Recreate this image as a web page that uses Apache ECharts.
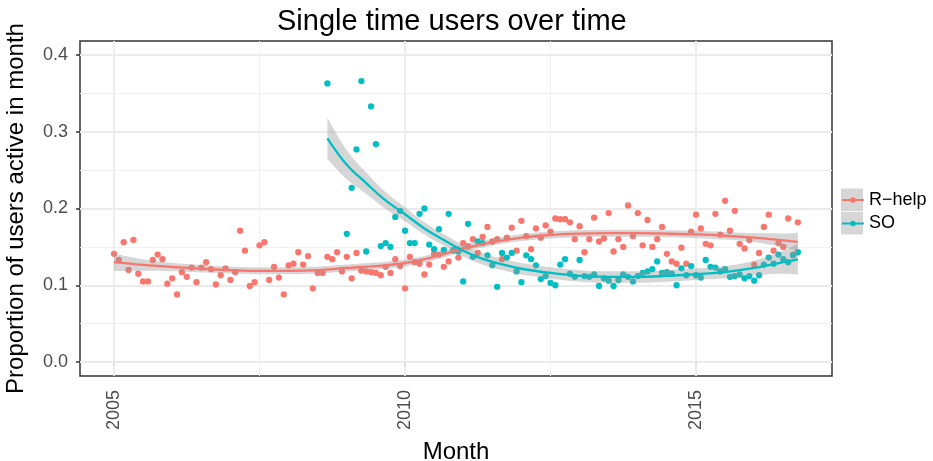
<!DOCTYPE html>
<html><head><meta charset="utf-8">
<script src="https://cdn.jsdelivr.net/npm/echarts@6/dist/echarts.min.js"></script>
<style>html,body{margin:0;padding:0;background:#fff}#c{width:933px;height:461px}</style>
</head><body><div id="c"></div>
<script>
// ---- data (monthly, month index 0 = Jan 2005) ----
const startYear = 2005;
const rhelpValues = [0.141,0.133,0.156,0.120,0.159,0.115,0.105,0.105,0.133,0.140,
 0.134,0.102,0.109,0.088,0.117,0.111,0.123,0.104,0.123,0.130,
 0.121,0.101,0.113,0.122,0.107,0.117,0.171,0.145,0.099,0.104,
 0.152,0.156,0.107,0.124,0.110,0.088,0.126,0.128,0.143,0.127,
 0.138,0.096,0.116,0.116,0.137,0.134,0.143,0.118,0.137,0.109,
 0.142,0.119,0.118,0.117,0.116,0.113,0.124,0.116,0.134,0.125,
 0.096,0.137,0.130,0.128,0.114,0.127,0.141,0.140,0.124,0.131,
 0.145,0.136,0.155,0.151,0.160,0.142,0.163,0.176,0.157,0.160,
 0.134,0.162,0.175,0.145,0.184,0.164,0.147,0.174,0.162,0.178,
 0.170,0.187,0.186,0.186,0.182,0.160,0.177,0.143,0.160,0.188,
 0.157,0.161,0.194,0.144,0.160,0.150,0.204,0.164,0.194,0.152,
 0.185,0.150,0.160,0.176,0.141,0.131,0.128,0.149,0.128,0.170,
 0.192,0.174,0.154,0.152,0.193,0.166,0.210,0.171,0.197,0.154,
 0.148,0.159,0.127,0.142,0.176,0.192,0.145,0.155,0.150,0.187,
 0.140,0.182];
const soStartMonth = 44;
const soValues = [0.363,null,null,null,0.167,0.227,0.277,0.366,0.144,0.333,
 0.284,0.151,0.155,0.150,0.189,0.197,0.171,0.155,0.155,0.193,
 0.200,0.153,0.147,0.173,0.146,0.193,0.146,0.144,0.105,0.180,
 0.137,0.157,0.155,0.139,0.126,0.098,0.142,0.136,0.142,0.118,
 0.104,0.139,0.134,0.126,0.108,0.112,0.103,0.100,0.127,0.134,
 0.115,0.111,0.133,0.112,0.111,0.114,0.099,0.109,0.106,0.099,
 0.107,0.114,0.111,0.105,0.112,0.116,0.118,0.121,0.131,0.116,
 0.117,0.115,0.100,0.122,0.113,0.125,0.113,0.110,0.133,0.124,
 0.123,0.118,0.121,0.111,0.112,0.114,0.109,0.112,0.106,0.113,
 0.127,0.136,0.128,0.140,0.134,0.130,0.139,0.143];
// smooth fits (month index, fitted value, half band width)
const rFitMonths = [0,6,12,18,24,30,36,42,48,54,60,66,72,78,84,90,96,102,108,114,120,126,132,138,141];
const rFit = [0.130,0.1265,0.1238,0.1215,0.1198,0.1188,0.1188,0.1198,0.1225,0.125,0.129,0.137,0.148,0.156,0.162,0.1655,0.1672,0.1678,0.1678,0.1672,0.1662,0.1645,0.162,0.1585,0.1565];
const rSe = [0.0115,0.0075,0.0055,0.0048,0.0045,0.0045,0.0045,0.0045,0.0045,0.0045,0.0045,0.0045,0.0045,0.0045,0.0045,0.0045,0.0045,0.0045,0.0045,0.0045,0.0048,0.005,0.006,0.009,0.012];
const soFitMonths = [44,48,52,56,60,64,68,72,76,80,84,90,96,102,108,114,120,126,132,138,141];
const soFit = [0.2915,0.257,0.233,0.2105,0.1925,0.174,0.159,0.145,0.1343,0.1273,0.1215,0.116,0.1122,0.1108,0.1108,0.1122,0.1145,0.1172,0.1225,0.130,0.1338];
const soSe = [0.027,0.019,0.014,0.011,0.009,0.008,0.0075,0.0075,0.0075,0.0075,0.0075,0.0075,0.0075,0.0075,0.0075,0.0075,0.0075,0.008,0.0095,0.015,0.02];
const xTicks = [2005, 2010, 2015];
const yTicks = [0, 0.1, 0.2, 0.3, 0.4];
const xMinorGrid = [2007.5, 2012.5];
const yMinorGrid = [0.05, 0.15, 0.25, 0.35];
const seriesNames = ['R\u2212help', 'SO'];
const colors = ['#F8766D', '#00BFC4'];

// ---- build ----
const toYear = m => startYear + m / 12;
const rPts = rhelpValues.map((v, i) => [toYear(i), v]);
const soPts = [];
soValues.forEach((v, i) => { if (v !== null) soPts.push([toYear(soStartMonth + i), v]); });
// band series keep the value column first so that the stack is applied to y
const lo = (ms, f, s) => ms.map((m, i) => [f[i] - s[i], toYear(m)]);
const wd = (ms, s) => ms.map((m, i) => [2 * s[i], toYear(m)]);
const fit = (ms, f) => ms.map((m, i) => [toYear(m), f[i]]);

const FONT = 'Liberation Sans, Arial, sans-serif';
const gridMajor = {color: '#EBEBEB', width: 1.8, type: 'solid'};
const gridMinor = {color: '#F0F0F0', width: 1, type: 'solid'};
const markData = [];
xTicks.forEach(v => markData.push({xAxis: v, lineStyle: gridMajor}));
xMinorGrid.forEach(v => markData.push({xAxis: v, lineStyle: gridMinor}));
yTicks.forEach(v => markData.push({yAxis: v, lineStyle: gridMajor}));
yMinorGrid.forEach(v => markData.push({yAxis: v, lineStyle: gridMinor}));

const bandStyle = {color: 'rgba(153,153,153,0.4)', opacity: 1};
function bandSeries(key, ms, f, s) {
  return [
    {type: 'line', name: '_lo' + key, stack: key, data: lo(ms, f, s), encode: {x: 1, y: 0}, smooth: 0.4, symbol: 'none',
     lineStyle: {opacity: 0, width: 0}, z: 3, silent: true},
    {type: 'line', name: '_band' + key, stack: key, data: wd(ms, s), encode: {x: 1, y: 0}, smooth: 0.4, symbol: 'none',
     lineStyle: {opacity: 0, width: 0}, areaStyle: bandStyle, z: 3, silent: true}
  ];
}
function fitSeries(name, color, ms, f) {
  return {type: 'line', name: name, data: fit(ms, f), smooth: 0.4, symbol: 'circle', symbolSize: 6,
    showSymbol: false, itemStyle: {color: color}, lineStyle: {color: color, width: 2.3}, z: 3, silent: true};
}

const chart = echarts.init(document.getElementById('c'), null, {renderer: 'canvas'});
chart.setOption({
  animation: false,
  backgroundColor: '#fff',
  title: {text: 'Single time users over time', left: 277, top: 7, padding: 0,
    textStyle: {fontSize: 29, fontWeight: 'normal', color: '#000', fontFamily: FONT}},
  grid: {left: 80, top: 41, width: 752, height: 335, containLabel: false, outerBoundsMode: 'none',
    show: true, borderColor: '#333333', borderWidth: 1.5, backgroundColor: 'transparent'},
  legend: [
    {data: [seriesNames[0]], orient: 'vertical', left: 841, top: 191, padding: 0, itemWidth: 22, itemHeight: 7,
     textStyle: {fontSize: 18, color: '#000', fontFamily: FONT}, selectedMode: false},
    {data: [seriesNames[1]], orient: 'vertical', left: 841, top: 214.5, padding: 0, itemWidth: 22, itemHeight: 7,
     textStyle: {fontSize: 18, color: '#000', fontFamily: FONT}, selectedMode: false}
  ],
  graphic: [
    {type: 'rect', shape: {x: 841, y: 188.5, width: 22, height: 22.6}, style: {fill: '#D6D6D6'}, z: 0},
    {type: 'rect', shape: {x: 841, y: 211.9, width: 22, height: 22.6}, style: {fill: '#D6D6D6'}, z: 0}
  ],
  xAxis: {type: 'value', min: 2004.4158, max: 2017.3368,
    name: 'Month', nameLocation: 'middle', nameGap: 64,
    nameTextStyle: {fontSize: 24, color: '#000', fontFamily: FONT},
    axisLine: {show: false},
    axisTick: {show: true, customValues: xTicks, length: 4, lineStyle: {color: '#333333', width: 1.5}},
    axisLabel: {customValues: xTicks, rotate: 90, margin: 14, fontSize: 18, color: '#4D4D4D', fontFamily: FONT,
      formatter: v => String(Math.round(v))},
    splitLine: {show: false}, minorSplitLine: {show: false}},
  yAxis: {type: 'value', min: -0.01824, max: 0.41824,
    name: 'Proportion of users active in month', nameLocation: 'middle', nameGap: 52,
    nameTextStyle: {fontSize: 24, color: '#000', fontFamily: FONT},
    axisLine: {show: false},
    axisTick: {show: true, customValues: yTicks, length: 4, lineStyle: {color: '#333333', width: 1.5}},
    axisLabel: {customValues: yTicks, margin: 12, fontSize: 18, color: '#4D4D4D', fontFamily: FONT,
      formatter: v => v.toFixed(1)},
    splitLine: {show: false}, minorSplitLine: {show: false}},
  series: [
    {type: 'scatter', name: 'R-help points', data: rPts, symbolSize: 6.3, itemStyle: {color: colors[0], opacity: 1}, z: 2,
     markLine: {silent: true, symbol: ['none', 'none'], label: {show: false}, z: 1, animation: false, data: markData}},
    {type: 'scatter', name: 'SO points', data: soPts, symbolSize: 6.3, itemStyle: {color: colors[1], opacity: 1}, z: 2},
    ...bandSeries('r', rFitMonths, rFit, rSe),
    fitSeries(seriesNames[0], colors[0], rFitMonths, rFit),
    ...bandSeries('s', soFitMonths, soFit, soSe),
    fitSeries(seriesNames[1], colors[1], soFitMonths, soFit)
  ]
});
</script></body></html>
